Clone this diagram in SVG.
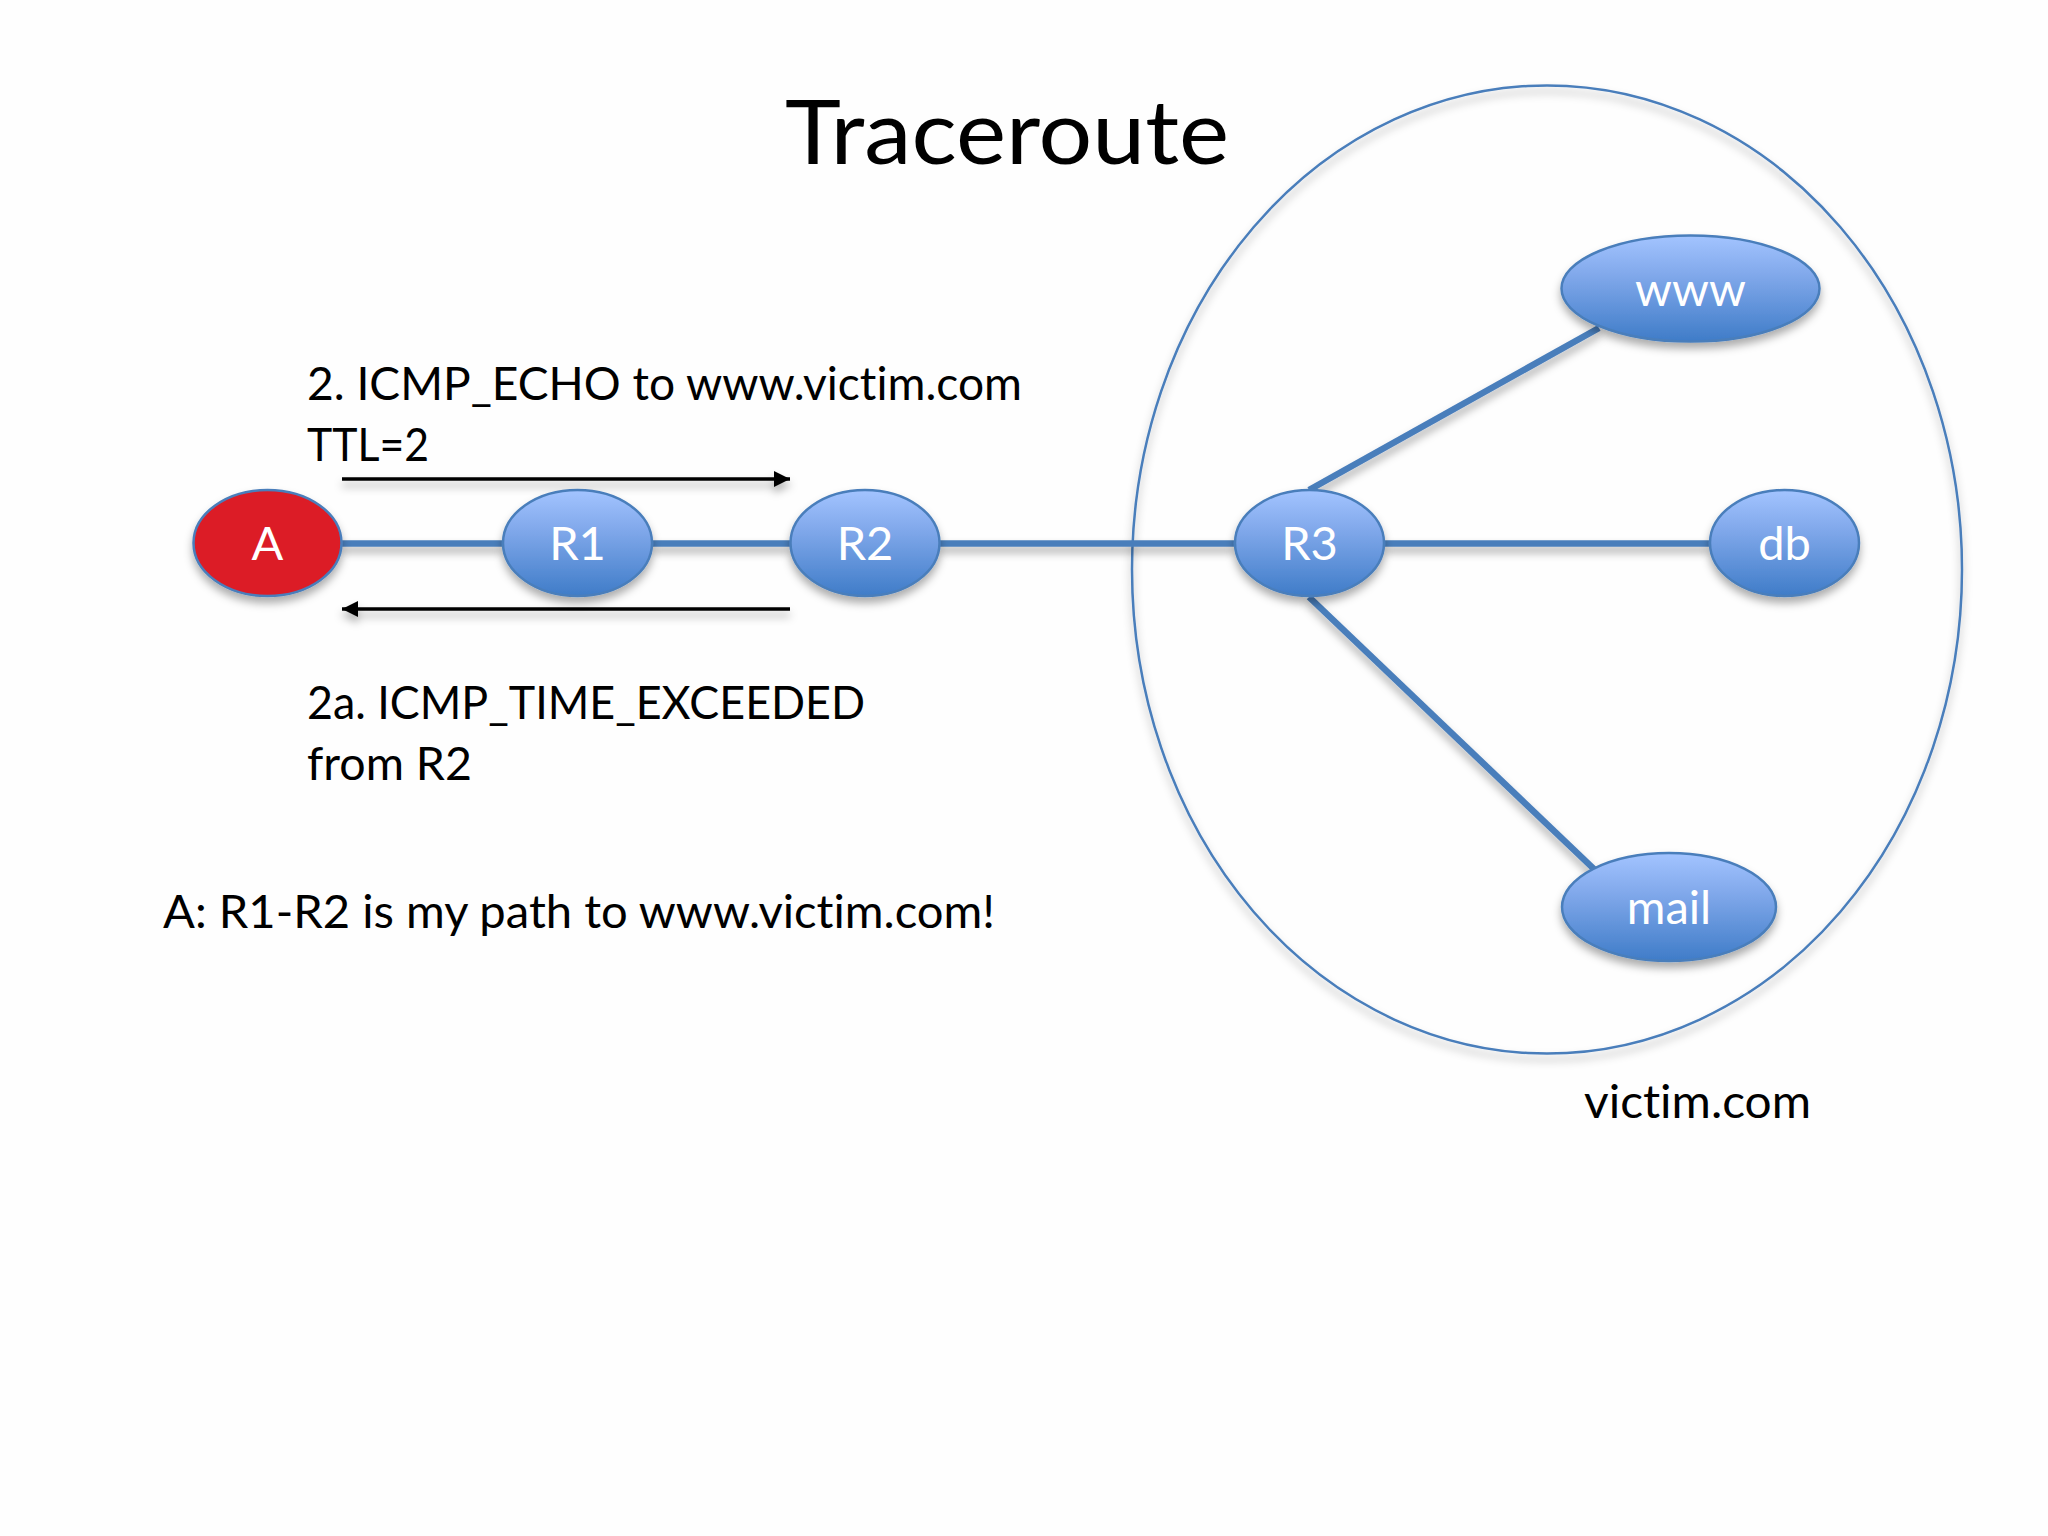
<svg xmlns="http://www.w3.org/2000/svg" width="2048" height="1536" viewBox="0 0 2048 1536">
<style>
text{font-family:"Lato","Open Sans","Liberation Sans",sans-serif;fill:#000;font-size:45.500px;font-variant-ligatures:none}
.n{fill:url(#blue);stroke:#4a7ebb;stroke-width:2.500}
.l{fill:#fff;text-anchor:middle;font-size:47px}
.c{stroke:#4a7ebb;stroke-width:6.500;fill:none;filter:url(#sh)}
.a{stroke:#000;stroke-width:3.500;fill:none;filter:url(#sh)}
.t{font-size:89px}
</style>
<defs>
<linearGradient id="blue" x1="0" y1="0" x2="0" y2="1"><stop offset="0" stop-color="#a3c4ff"/><stop offset=".35" stop-color="#83aaec"/><stop offset="1" stop-color="#3f7cc8"/></linearGradient>
<filter id="sh" filterUnits="userSpaceOnUse" x="0" y="0" width="2048" height="1536"><feDropShadow dx="0" dy="6" stdDeviation="4.500" flood-color="#000" flood-opacity=".32"/></filter>
<marker id="ah" markerUnits="userSpaceOnUse" markerWidth="16" markerHeight="16" refX="16" refY="8" orient="auto"><path d="M0 0L16 8L0 16Z" fill="#000"/></marker>
</defs>
<rect width="2048" height="1536" fill="#fefefe"/>
<g id="victim-boundary"><ellipse cx="1547" cy="569.500" rx="415" ry="484" fill="none" stroke="#4a7ebb" stroke-width="2.500" filter="url(#sh)"/></g>
<g id="connectors">
<path class="c" d="M341 543.500H503"/>
<path class="c" d="M652 543.500H790"/>
<path class="c" d="M939 543.500H1235"/>
<path class="c" d="M1384 543.500H1710"/>
<path class="c" d="M1309 490L1599 328"/>
<path class="c" d="M1309 597L1595 870"/>
<path class="a" d="M342 479H790" marker-end="url(#ah)"/>
<path class="a" d="M790 609H342" marker-end="url(#ah)"/>
</g>
<g id="node-A"><ellipse cx="267.500" cy="543" rx="74" ry="53" fill="#dc1c28" stroke="#4a7ebb" stroke-width="2.500" filter="url(#sh)"/><text class="l" x="267.500" y="560">A</text></g>
<g id="node-R1"><ellipse class="n" cx="577.500" cy="543" rx="74.500" ry="53" filter="url(#sh)"/><text class="l" x="577.500" y="560">R1</text></g>
<g id="node-R2"><ellipse class="n" cx="865" cy="543" rx="74.500" ry="53" filter="url(#sh)"/><text class="l" x="865" y="560">R2</text></g>
<g id="node-R3"><ellipse class="n" cx="1309.500" cy="543" rx="74.500" ry="53" filter="url(#sh)"/><text class="l" x="1309.500" y="560">R3</text></g>
<g id="node-www"><ellipse class="n" cx="1690.500" cy="288.500" rx="129" ry="53" filter="url(#sh)"/><text class="l" x="1690.500" y="306">www</text></g>
<g id="node-db"><ellipse class="n" cx="1784.500" cy="543" rx="74.500" ry="53" filter="url(#sh)"/><text class="l" x="1784.500" y="560">db</text></g>
<g id="node-mail"><ellipse class="n" cx="1669" cy="907" rx="107" ry="54" filter="url(#sh)"/><text class="l" x="1669" y="924">mail</text></g>
<text class="t" x="785" y="164" textLength="444" lengthAdjust="spacingAndGlyphs">Traceroute</text>
<text x="307" y="400" textLength="715" lengthAdjust="spacingAndGlyphs">2. ICMP_ECHO to www.victim.com</text>
<text x="307" y="461" textLength="122" lengthAdjust="spacingAndGlyphs">TTL=2</text>
<text x="307" y="719" textLength="558" lengthAdjust="spacingAndGlyphs">2a. ICMP_TIME_EXCEEDED</text>
<text x="307" y="780" textLength="165" lengthAdjust="spacingAndGlyphs">from R2</text>
<text x="163" y="928" textLength="832" lengthAdjust="spacingAndGlyphs">A: R1-R2 is my path to www.victim.com!</text>
<text x="1584" y="1118" textLength="227" lengthAdjust="spacingAndGlyphs">victim.com</text>
</svg>
